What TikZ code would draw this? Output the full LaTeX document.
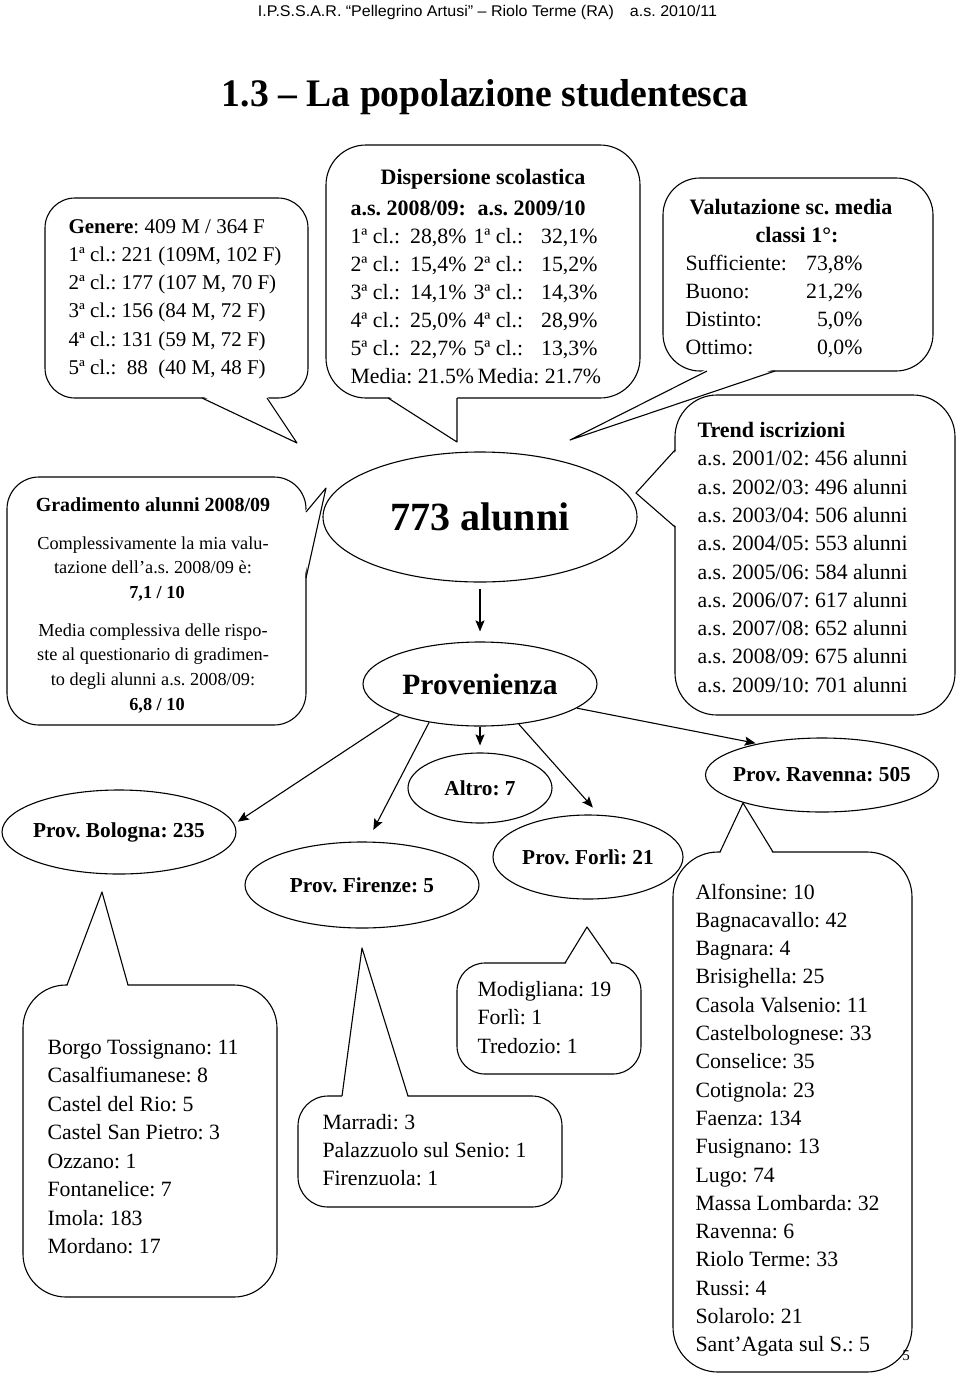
\documentclass[tikz,border=0pt]{standalone}
\usepackage{fontspec}
\usepackage{graphicx}
\usetikzlibrary{shapes.geometric,arrows.meta}
\setmainfont{Liberation Serif}
\newfontfamily\arialf{Liberation Sans}
\newcommand\fsz[1]{\fontsize{#1}{#1}\selectfont}
\newcommand\ctail[4]{\fill[white] ([shift={(#4)}]#1) -- (#2) -- ([shift={(#4)}]#3) -- cycle; \draw (#1) -- (#2) -- (#3);}
\frenchspacing
\begin{document}
\begin{tikzpicture}[x=1pt,y=-1pt,line width=1.1pt,line join=round,
 txt/.style={font=\fsz{21.8}, inner sep=0pt},
 btxt/.style={font=\bfseries\fsz{22}, inner sep=0pt},
 ttxt/.style={font=\fsz{21}, inner sep=0pt},
 gtxt/.style={font=\fsz{18.3}, inner sep=0pt, anchor=base},
 cbox/.style={draw, fill=white, rounded corners=#1, inner sep=0pt},
 oval/.style={draw, ellipse, inner sep=0pt, font=\bfseries\fsz{21.3}},
 arr/.style={-{Stealth[length=11pt,width=9pt,inset=2pt]}, line width=1.1pt}]
\fill[white] (0,0) rectangle (960,1389);
\useasboundingbox (0,0) rectangle (960,1389);

% header and title
\node[inner sep=0pt, font=\arialf\fsz{15.5}] (hdr) at (487.5,12) {\resizebox{459pt}{\height}{I.P.S.S.A.R. “Pellegrino Artusi” – Riolo Terme (RA)\quad a.s. 2010/11}};
\node[inner sep=0pt, font=\bfseries\fsz{39}] (ttl) at (485,97) {\resizebox{526pt}{\height}{1.3 – La popolazione studentesca}};

% callout boxes
\node[cbox=30, minimum width=263, minimum height=200] (gen) at (176.5,298) {};
\node[cbox=40, minimum width=314, minimum height=253] (dis) at (483,271.5) {};
\node[cbox=37, minimum width=270, minimum height=193] (val) at (798,274.5) {};
\node[cbox=32, minimum width=299, minimum height=248] (gra) at (156.5,601) {};
\node[cbox=42, minimum width=280, minimum height=320] (tre) at (815,555) {};
\node[cbox=43, minimum width=254, minimum height=312] (bli) at (150,1141) {};
\node[cbox=30, minimum width=264, minimum height=111] (fli) at (430,1151.5) {};
\node[cbox=28, minimum width=184, minimum height=111] (foli) at (549,1018.5) {};
\node[cbox=45, minimum width=239, minimum height=520] (rli) at (792.5,1112) {};

% tails
\ctail{202,398}{297,443}{267,398}{0,-2}
\ctail{388,398}{457,442}{457,398}{0,-2}
\ctail{707,371}{570,440}{775,371}{0,-2}
\ctail{306,512}{326,488}{306,578}{-2,0}
\ctail{675,450}{636,493}{675,527}{2,0}
\ctail{67,985}{102,892}{128,985}{0,2}
\ctail{342,1096}{362,948}{408,1096}{0,2}
\ctail{565,963}{587,927}{612,963}{0,2}
\ctail{720,852}{743,803}{773,852}{0,2}

% ellipses
\node[oval, minimum width=314, minimum height=130, font=\bfseries\fsz{40}] (tot) at (480,517) {\makebox[0pt]{773 alunni}};
\node[oval, minimum width=234, minimum height=84, font=\bfseries\fsz{29.5}] (prov) at (480,684) {\makebox[0pt]{Provenienza}};
\node[oval, minimum width=234, minimum height=84] (bol) at (119,832) {\makebox[0pt]{Prov. Bologna: 235}};
\node[oval, minimum width=234, minimum height=86] (fir) at (362,885) {\makebox[0pt]{Prov. Firenze: 5}};
\node[oval, minimum width=144, minimum height=70] (alt) at (480,788) {\makebox[0pt]{Altro: 7}};
\node[oval, minimum width=190, minimum height=84] (forl) at (588,857) {\makebox[0pt]{Prov. Forlì: 21}};
\node[oval, minimum width=233, minimum height=74] (rav) at (822,775) {\makebox[0pt]{Prov. Ravenna: 505}};

% arrows
\draw[arr, shorten <=6pt, shorten >=10pt] (tot.south) -- (prov.north);
\draw[arr, shorten >=4pt] (prov.201.7) -- (bol.4);
\draw[arr, shorten >=13pt] (prov.217) -- (fir.83);
\draw[arr, shorten >=7pt] (prov.south) -- (alt.north);
\draw[arr, shorten >=9.6pt] (prov.314) -- (forl.75);
\draw[arr, shorten >=2pt] (prov.346) -- (rav.154);

% Genere
\node[ttxt, anchor=base west] (ge0) at (68,233) {\textbf{Genere}: 409 M / 364 F};
\foreach \t [count=\i] in {{1ª cl.: 221 (109M, 102 F)},{2ª cl.: 177 (107 M, 70 F)},{3ª cl.: 156 (84 M, 72 F)},{4ª cl.: 131 (59 M, 72 F)},{5ª cl.: \ 88 \ (40 M, 48 F)}}
  \node[ttxt, anchor=base west] (ge\i) at (68,233+28.3*\i) {\t};

% Dispersione
\node[btxt, anchor=base] (di0) at (483,184) {Dispersione scolastica};
\node[btxt, anchor=base west] (dia) at (350,215) {a.s. 2008/09:};
\node[btxt, anchor=base west] (dib) at (477,215) {a.s. 2009/10};
\foreach \n/\u/\v [count=\i from 0] in {1/{28,8}/{32,1},2/{15,4}/{15,2},3/{14,1}/{14,3},4/{25,0}/{28,9},5/{22,7}/{13,3}} {
  \node[txt, anchor=base west] (dl\i) at (350,243+28.1*\i) {{\n}ª cl.:};
  \node[txt, anchor=base east] (du\i) at (467,243+28.1*\i) {\u\%};
  \node[txt, anchor=base west] (dm\i) at (473,243+28.1*\i) {{\n}ª cl.:};
  \node[txt, anchor=base east] (dv\i) at (598,243+28.1*\i) {\v\%};
}
\node[txt, anchor=base west] (dme1) at (350,383.5) {Media: 21.5\%};
\node[txt, anchor=base west] (dme2) at (477,383.5) {Media: 21.7\%};

% Valutazione
\node[btxt, anchor=base] (va0) at (791,214) {Valutazione sc. media};
\node[btxt, anchor=base] (va1) at (797,242) {classi 1°:};
\foreach \l/\v [count=\i from 0] in {Sufficiente:/{73,8},Buono:/{21,2},Distinto:/{5,0},Ottimo:/{0,0}} {
  \node[txt, anchor=base west] (vl\i) at (685,270+28.3*\i) {\l};
  \node[txt, anchor=base east] (vv\i) at (863,270+28.3*\i) {\v\%};
}

% Gradimento
\node[gtxt, font=\bfseries\fsz{20}] (gr0) at (153,511) {Gradimento alunni 2008/09};
\node[gtxt] (gr1) at (153,549) {Complessivamente la mia valu-};
\node[gtxt] (gr2) at (153,573) {tazione dell’a.s. 2008/09 è:};
\node[gtxt, font=\bfseries\fsz{18.3}] (gr3) at (157,598) {7,1 / 10};
\node[gtxt] (gr4) at (153,636) {Media complessiva delle rispo-};
\node[gtxt] (gr5) at (153,660) {ste al questionario di gradimen-};
\node[gtxt] (gr6) at (153,685) {to degli alunni a.s. 2008/09:};
\node[gtxt, font=\bfseries\fsz{18.3}] (gr7) at (157,710) {6,8 / 10};

% Trend
\node[btxt, anchor=base west] (tr0) at (697,437) {Trend iscrizioni};
\foreach \t [count=\i] in {{2001/02: 456},{2002/03: 496},{2003/04: 506},{2004/05: 553},{2005/06: 584},{2006/07: 617},{2007/08: 652},{2008/09: 675},{2009/10: 701}}
  \node[txt, anchor=base west] (tr\i) at (697,437.5+28.3*\i) {a.s. \t\ alunni};

% Bologna list
\foreach \t [count=\i from 0] in {Borgo Tossignano: 11,Casalfiumanese: 8,Castel del Rio: 5,Castel San Pietro: 3,Ozzano: 1,Fontanelice: 7,Imola: 183,Mordano: 17}
  \node[txt, anchor=base west] (bo\i) at (47,1054+28.5*\i) {\t};

% Firenze list
\foreach \t [count=\i from 0] in {Marradi: 3,Palazzuolo sul Senio: 1,Firenzuola: 1}
  \node[txt, anchor=base west] (fi\i) at (322,1129+28*\i) {\t};

% Forli list
\foreach \t [count=\i from 0] in {Modigliana: 19,Forlì: 1,Tredozio: 1}
  \node[txt, anchor=base west] (fo\i) at (477,996+28.5*\i) {\t};

% Ravenna list
\foreach \t [count=\i from 0] in {Alfonsine: 10,Bagnacavallo: 42,Bagnara: 4,Brisighella: 25,Casola Valsenio: 11,Castelbolognese: 33,Conselice: 35,Cotignola: 23,Faenza: 134,Fusignano: 13,Lugo: 74,Massa Lombarda: 32,Ravenna: 6,Riolo Terme: 33,Russi: 4,Solarolo: 21,Sant’Agata sul S.: 5}
  \node[txt, anchor=base west] (ra\i) at (695,899+28.3*\i) {\t};

% page number
\node[inner sep=0pt, font=\fsz{15}] (pgn) at (906,1356) {5};
\end{tikzpicture}
\end{document}
